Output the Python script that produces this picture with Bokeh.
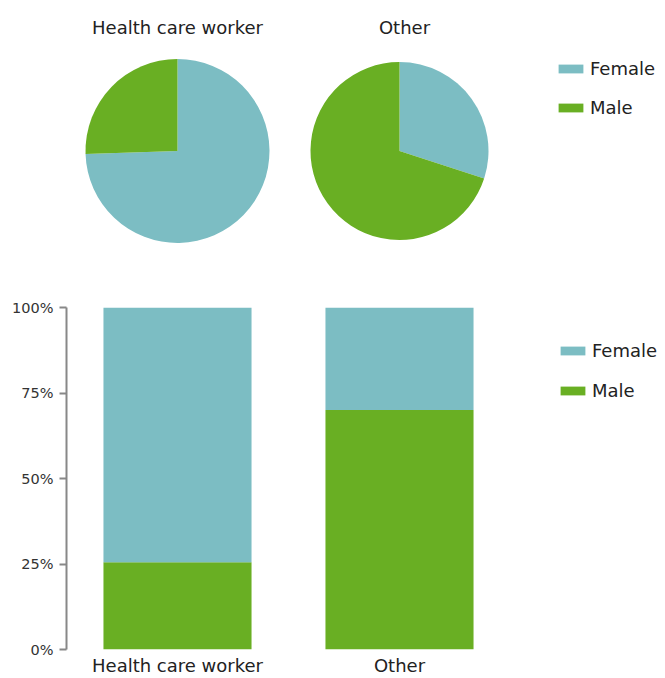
import math
from bokeh.plotting import figure
from bokeh.models import (Range1d, Legend, LegendItem, FixedTicker,
                          NumeralTickFormatter, ColumnDataSource)
from bokeh.layouts import column
from bokeh.core.properties import value
from bokeh.embed import file_html
from bokeh.resources import INLINE

# ---- data ----
categories = ["Health care worker", "Other"]
female_pct = [74.5, 30.0]
male_pct = [25.5, 70.0]
series = ["Female", "Male"]
y_ticks = [0, 0.25, 0.5, 0.75, 1.0]

# ---- styles ----
FEMALE_C = "#7CBDC3"
MALE_C = "#69AF23"
FONT = "DejaVu Sans"
TXT = "#222222"
W = 665
LEFT = 66

# ---- top figure: pies (data units = page pixels) ----
TH = 275
PIE_X = [177, 399]
PIE_Y = [124.5, 124.5]
PIE_R = [92, 89]
TITLE_X = [177, 404]
TITLE_Y = [248, 248]

top = figure(width=W, height=TH, output_backend="svg", toolbar_location=None,
             x_range=Range1d(LEFT, W), y_range=Range1d(0, TH),
             x_axis_type=None, y_axis_type=None,
             min_border_left=LEFT, min_border_right=0,
             min_border_top=0, min_border_bottom=0)
top.outline_line_color = None
top.grid.visible = False

f_frac = [f / (f + m) for f, m in zip(female_pct, male_pct)]
split = [math.pi / 2 - 2 * math.pi * fr for fr in f_frac]
src_f = ColumnDataSource(dict(x=PIE_X, y=PIE_Y, r=PIE_R, start=split,
                              end=[math.pi / 2] * len(split)))
src_m = ColumnDataSource(dict(x=PIE_X, y=PIE_Y, r=PIE_R,
                              start=[math.pi / 2] * len(split), end=split))
rf = top.wedge(x="x", y="y", radius="r", radius_units="screen",
               start_angle="start", end_angle="end", source=src_f,
               fill_color=FEMALE_C, line_color=None)
rm = top.wedge(x="x", y="y", radius="r", radius_units="screen",
               start_angle="start", end_angle="end", source=src_m,
               fill_color=MALE_C, line_color=None)
top.text(x=TITLE_X, y=TITLE_Y, text=categories, text_align="center",
         text_baseline="middle", text_font=value(FONT),
         text_font_size="18px", text_color=TXT)


def make_legend(items, loc, spacing):
    return Legend(items=items, location=loc, orientation="vertical",
                  label_text_font=FONT, label_text_font_size="18px",
                  label_text_color=TXT, glyph_width=31, glyph_height=11,
                  label_standoff=4, spacing=spacing, padding=0, margin=0,
                  border_line_color=None, background_fill_alpha=0)


top.add_layout(make_legend([LegendItem(label=series[0], renderers=[rf]),
                            LegendItem(label=series[1], renderers=[rm])],
                           (489, 157), 18))

# ---- bottom figure: stacked bars ----
BH = 403
X_END = (W - LEFT) / 222
bar_x = [i + 0.5 for i in range(len(categories))]
bsrc = ColumnDataSource(dict(x=bar_x,
                             Male=[m / 100 for m in male_pct],
                             Female=[f / 100 for f in female_pct]))
bot = figure(width=W, height=BH, output_backend="svg", toolbar_location=None,
             x_range=Range1d(0, X_END), y_range=Range1d(0, 1),
             min_border_left=LEFT, min_border_right=0, min_border_top=32,
             min_border_bottom=26)
bot.outline_line_color = None
bot.grid.visible = False
rs = bot.vbar_stack(["Male", "Female"], x="x", width=0.667, source=bsrc,
                    color=[MALE_C, FEMALE_C], line_color=None)

xa = bot.xaxis[0]
xa.ticker = FixedTicker(ticks=bar_x)
xa.major_label_overrides = {bx: c for bx, c in zip(bar_x, categories)}
xa.axis_line_color = None
xa.major_tick_line_color = None
xa.major_tick_out = 0
xa.major_tick_in = 0
xa.minor_tick_line_color = None
xa.major_label_standoff = 5
xa.major_label_text_font = FONT
xa.major_label_text_font_size = "18px"
xa.major_label_text_color = TXT

ya = bot.yaxis[0]
ya.ticker = FixedTicker(ticks=y_ticks)
ya.formatter = NumeralTickFormatter(format="0%")
ya.bounds = (0, 1)
ya.axis_line_color = "#888888"
ya.axis_line_width = 2
ya.major_tick_line_color = "#888888"
ya.major_tick_line_width = 2
ya.major_tick_out = 7
ya.major_tick_in = 0
ya.minor_tick_line_color = None
ya.major_label_standoff = 6
ya.major_label_text_font = FONT
ya.major_label_text_font_size = "14.5px"
ya.major_label_text_color = "#333333"

bot.add_layout(make_legend([LegendItem(label=series[0], renderers=[rs[1]]),
                            LegendItem(label=series[1], renderers=[rs[0]])],
                           (491, 248), 19))

layout = column(top, bot, spacing=0)
open("out.html", "w").write(file_html(layout, INLINE))
